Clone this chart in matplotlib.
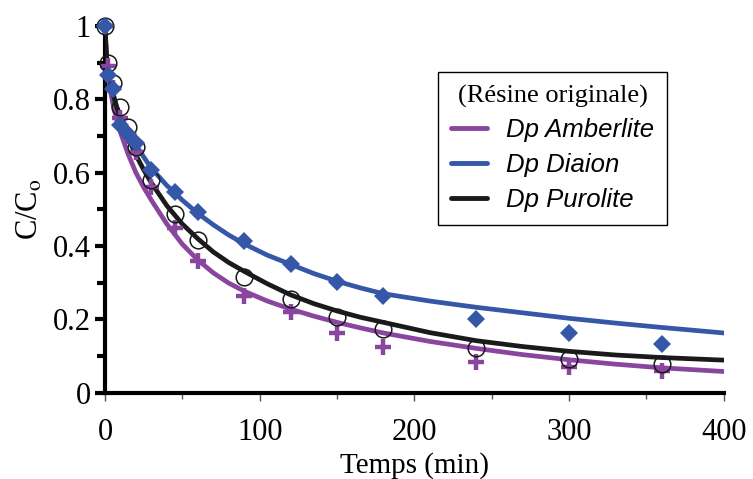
import numpy as np
import matplotlib.pyplot as plt
from matplotlib.ticker import MultipleLocator

# ---------------- Data ----------------
t_exp = [0, 2, 5, 10, 15, 20, 30, 45, 60, 90, 120, 150, 180, 240, 300, 360]

amberlite_exp = [1.0, 0.89, 0.83, 0.75, 0.70, 0.657, 0.56, 0.448, 0.36,
                 0.264, 0.221, 0.162, 0.125, 0.085, 0.071, 0.060]
diaion_exp = [1.0, 0.865, 0.828, 0.731, 0.704, 0.680, 0.608, 0.548, 0.494,
              0.414, 0.352, 0.301, 0.265, 0.200, 0.162, 0.133]
purolite_exp = [1.0, 0.90, 0.845, 0.78, 0.725, 0.67, 0.58, 0.487, 0.416,
                0.316, 0.255, 0.207, 0.173, 0.123, 0.091, 0.078]

# fitted model curves
t_fit = [0, 1, 2, 3, 5, 7.5, 10, 15, 20, 25, 30, 40, 50, 60, 70, 80, 90,
         105, 120, 135, 150, 165, 180, 210, 240, 270, 300, 330, 360, 400]

amberlite_fit = [1.0, 0.91, 0.87, 0.835, 0.79, 0.745, 0.71, 0.65, 0.60, 0.56,
                 0.525, 0.46, 0.405, 0.362, 0.327, 0.299, 0.277, 0.25, 0.228,
                 0.209, 0.192, 0.177, 0.163, 0.14, 0.121, 0.104, 0.09, 0.078,
                 0.068, 0.058]
diaion_fit = [1.0, 0.90, 0.865, 0.84, 0.81, 0.78, 0.755, 0.71, 0.675, 0.643,
              0.612, 0.565, 0.525, 0.489, 0.458, 0.43, 0.406, 0.375, 0.35,
              0.325, 0.304, 0.286, 0.27, 0.25, 0.233, 0.218, 0.203, 0.19,
              0.178, 0.163]
purolite_fit = [1.0, 0.92, 0.88, 0.855, 0.82, 0.78, 0.75, 0.695, 0.648, 0.608,
                0.572, 0.51, 0.46, 0.42, 0.384, 0.355, 0.331, 0.297, 0.267,
                0.243, 0.223, 0.206, 0.192, 0.164, 0.142, 0.126, 0.113, 0.103,
                0.096, 0.089]

c_purple = "#8a459f"
c_blue = "#3457a8"
c_black = "#1a1a1a"

plt.rcParams["font.family"] = ["Liberation Serif", "DejaVu Serif"]
plt.rcParams["mathtext.fontset"] = "stix"

fig = plt.figure(figsize=(7.53, 4.79), dpi=100)
ax = fig.add_axes([0.1394, 0.180, 0.8216, 0.766])

# ---------------- Curves ----------------
ax.plot(t_fit, amberlite_fit, color=c_purple, lw=3.4, label="Dp Amberlite",
        solid_capstyle="round", solid_joinstyle="round", zorder=3)
ax.plot(t_fit, diaion_fit, color=c_blue, lw=3.4, label="Dp Diaion",
        solid_capstyle="round", solid_joinstyle="round", zorder=3)
ax.plot(t_fit, purolite_fit, color=c_black, lw=3.4, label="Dp Purolite",
        solid_capstyle="round", solid_joinstyle="round", zorder=3)

# ---------------- Experimental points ----------------
ax.plot(t_exp, amberlite_exp, ls="none", marker="+", ms=11, mew=3.2,
        color=c_purple, zorder=4, clip_on=False)
ax.plot(t_exp, purolite_exp, ls="none", marker="o", ms=12, mew=1.1,
        mfc="none", mec=c_black, zorder=4, clip_on=False)
ax.plot(t_exp, diaion_exp, ls="none", marker="D", ms=9.5, mew=0,
        color=c_blue, zorder=5, clip_on=False)

# ---------------- Axes styling ----------------
ax.set_xlim(0, 400)
ax.set_ylim(0, 1)
ax.spines["top"].set_visible(False)
ax.spines["right"].set_visible(False)
ax.spines["left"].set_linewidth(3)
ax.spines["bottom"].set_linewidth(3)

ax.xaxis.set_major_locator(MultipleLocator(100))
ax.xaxis.set_minor_locator(MultipleLocator(50))
ax.yaxis.set_minor_locator(MultipleLocator(0.1))
ax.set_yticks([0, 0.2, 0.4, 0.6, 0.8, 1.0])
ax.set_yticklabels(["0", "0.2", "0.4", "0.6", "0.8", "1"])

ax.tick_params(axis="x", which="major", direction="out", length=6, width=1,
               color="#555555", labelsize=22, pad=12)
ax.tick_params(axis="x", which="minor", direction="out", length=4, width=1,
               color="#555555")
ax.tick_params(axis="y", which="major", direction="out", length=7, width=3,
               labelsize=22, pad=3)
ax.tick_params(axis="y", which="minor", direction="out", length=6, width=3)

ax.set_xlabel("Temps (min)", fontsize=21, labelpad=4)
ax.set_ylabel(r"C/C$_\mathrm{o}$", fontsize=22, labelpad=6)

leg = ax.legend(loc="upper right", bbox_to_anchor=(0.909, 0.875),
                borderaxespad=0,
                title="(Résine originale)", frameon=True, fancybox=False,
                handlelength=1.4, handletextpad=0.75, borderpad=0.5,
                labelspacing=0.42,
                prop={"family": "Liberation Sans", "style": "italic",
                      "size": 18.5},
                title_fontproperties={"family": "Liberation Serif",
                                      "size": 19})
leg.get_frame().set_edgecolor("black")
leg.get_frame().set_linewidth(1)
leg.get_frame().set_alpha(1)
for line in leg.get_lines():
    line.set_linewidth(3.5)

fig.savefig("out.png", dpi=100)
